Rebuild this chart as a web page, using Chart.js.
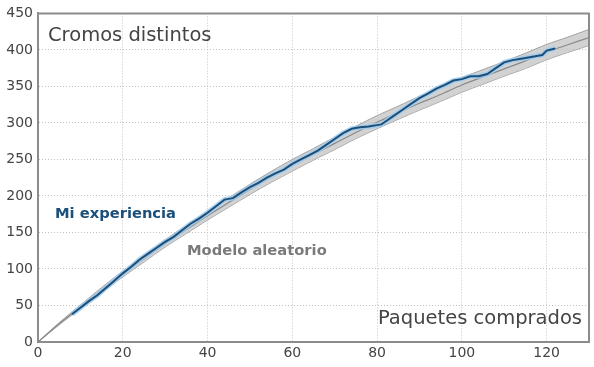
<!DOCTYPE html>
<html>
<head>
<meta charset="utf-8">
<script src="https://cdn.jsdelivr.net/npm/chart.js@4"></script>
<style>html,body{margin:0;padding:0;background:#fff;}canvas{display:block;}</style>
</head>
<body>
<canvas id="c" width="594" height="367"></canvas>
<script>
// Model (random) expectation and band
const modelPacks = [0,5,10,15,20,25,30,35,40,45,50,55,60,65,70,75,80,85,90,95,100,105,110,115,120,125,130];
const modelMean  = [0,25,48,71,93,114,135,154,173,191,209,226,242,257,272,287,301,314,327,339,352,363,374,385,397,407,417];
const modelUpper = [0,26.5,50.5,74.5,97,118.5,140,159.5,179,197.5,216,233.5,250,265,280.5,295.5,310,323,336.5,348.5,362,373,384,395.5,407.5,417.5,428];
const modelLower = [0,23.5,45.5,67.5,89,109.5,130,148.5,167,184.5,202,218.5,234,249,263.5,278.5,292,305,317.5,329.5,342,353,364,374.5,386.5,396.5,406];
// My experience
const myPacks = [8,10,12,14,16,18,20,22,24,26,28,30,32,34,36,38,40,42,44,45,46,48,50,52,54,56,58,60,62,64,66,68,70,72,74,76,78,80,81,82,84,86,88,90,92,94,96,98,100,102,104,106,108,110,112,114,116,118,119,120,122];
const myCount = [38,47,56,64,74,84,94,103,113,121,129,137,144,153,162,169,177,186,195,196,197,205,212,218,225,231,236,244,250,256,262,270,278,286,292,294,295,297,298,302,310,318,326,334,340,347,352,358,360,364,364,367,375,383,386,388,390,392,393,399,402];
// Axis ticks
const xTicks = [0,20,40,60,80,100,120];
const yTicks = [0,50,100,150,200,250,300,350,400,450];

const pts = (xs, ys) => xs.map((x, i) => ({x: x, y: ys[i]}));

const framePlugin = {
  id: 'frame',
  afterDraw(chart) {
    const {ctx, chartArea: a} = chart;
    ctx.save();
    ctx.strokeStyle = '#8c8c8c';
    ctx.lineWidth = 2;
    ctx.beginPath();
    ctx.moveTo(a.left, a.top); ctx.lineTo(a.right, a.top); ctx.lineTo(a.right, a.bottom);
    ctx.stroke();
    ctx.fillStyle = '#444';
    ctx.font = '19.5px "DejaVu Sans"';
    ctx.textBaseline = 'alphabetic';
    ctx.textAlign = 'left';
    ctx.fillText('Cromos distintos', 48, 41);
    ctx.textAlign = 'right';
    ctx.fillText('Paquetes comprados', 582, 324);
    ctx.textAlign = 'left';
    ctx.font = 'bold 14.7px "DejaVu Sans"';
    ctx.fillStyle = '#1b4f79';
    ctx.fillText('Mi experiencia', 55, 218);
    ctx.fillStyle = '#7a7a7a';
    ctx.fillText('Modelo aleatorio', 187, 255);
    ctx.restore();
  }
};

const gridCommon = {color: '#c2c2c2', lineWidth: 1, drawTicks: false};
const borderCommon = {display: true, color: '#8c8c8c', width: 2, dash: [1, 2]};

new Chart(document.getElementById('c'), {
  type: 'line',
  data: {
    datasets: [
      {data: pts(modelPacks, modelLower), borderColor: '#a0a0a0', borderWidth: 1, pointRadius: 0, fill: false, tension: 0.3, order: 5},
      {data: pts(modelPacks, modelUpper), borderColor: '#a0a0a0', borderWidth: 1, pointRadius: 0, fill: '-1', backgroundColor: 'rgba(195,195,195,0.75)', tension: 0.3, order: 4},
      {data: pts(modelPacks, modelMean), borderColor: '#8a8a8a', borderWidth: 1.2, pointRadius: 0, fill: false, tension: 0.3, order: 3},
      {data: pts(myPacks, myCount), borderColor: 'rgba(160,205,238,0.85)', borderWidth: 5, pointRadius: 0, fill: false, tension: 0, order: 2},
      {data: pts(myPacks, myCount), borderColor: '#1b4f79', borderWidth: 2, pointRadius: 0, fill: false, tension: 0, order: 1}
    ]
  },
  options: {
    responsive: false,
    animation: false,
    devicePixelRatio: 1,
    layout: {padding: {top: 12, right: 5, left: 0, bottom: 0}},
    plugins: {legend: {display: false}, tooltip: {enabled: false}},
    scales: {
      x: {
        type: 'linear', min: 0, max: 130,
        afterBuildTicks: s => { s.ticks = xTicks.map(v => ({value: v})); },
        afterFit: s => { s.height = 25; },
        grid: gridCommon,
        border: borderCommon,
        ticks: {color: '#444', font: {family: 'DejaVu Sans', size: 14}, padding: 3, maxRotation: 0}
      },
      y: {
        type: 'linear', min: 0, max: 450,
        afterBuildTicks: s => { s.ticks = yTicks.map(v => ({value: v})); },
        afterFit: s => { s.width = 38; },
        grid: gridCommon,
        border: borderCommon,
        ticks: {color: '#444', font: {family: 'DejaVu Sans', size: 14}, padding: 5}
      }
    }
  },
  plugins: [framePlugin]
});
</script>
</body>
</html>
